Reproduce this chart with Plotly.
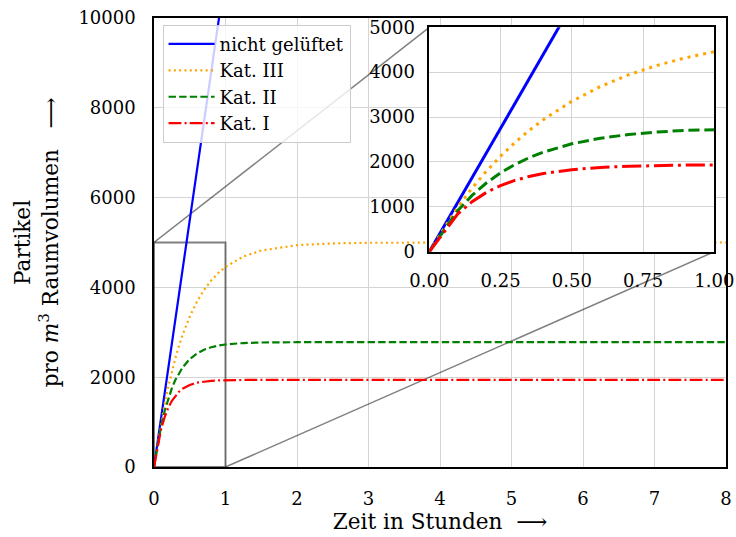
import plotly.graph_objects as go

# ---- data ----
t_hours = [0, 0.1, 0.15, 0.2, 0.25, 0.3, 0.35, 0.4, 0.5, 0.6, 0.7, 0.8, 0.9, 1.0,
           1.25, 1.5, 2, 2.5, 3, 4, 5, 6, 7, 8]
kat3 = [0, 996, 1416, 1792, 2129, 2431, 2700, 2942, 3352, 3680, 3943, 4153, 4322, 4457,
        4688, 4821, 4941, 4980, 4994, 5000, 5000, 5000, 5000, 5000]
kat2 = [0, 917, 1254, 1531, 1757, 1943, 2094, 2219, 2404, 2528, 2611, 2667, 2704, 2729,
        2761, 2773, 2779, 2780, 2780, 2780, 2780, 2780, 2780, 2780]
kat1 = [0, 843, 1115, 1320, 1473, 1589, 1676, 1742, 1828, 1877, 1904, 1920, 1929, 1934,
        1938, 1940, 1940, 1940, 1940, 1940, 1940, 1940, 1940, 1940]
blue_t = [0, 1]
blue_v = [0, 11000]

series_names = ["nicht gelüftet", "Kat. III", "Kat. II", "Kat. I"]
x_ticks_main = [0, 1, 2, 3, 4, 5, 6, 7, 8]
y_ticks_main = [0, 2000, 4000, 6000, 8000, 10000]
x_ticks_inset = [0, 0.25, 0.5, 0.75, 1.0]
y_ticks_inset = [0, 1000, 2000, 3000, 4000, 5000]
zoom_x = [0, 1]
zoom_y = [0, 5000]

FONT = "DejaVu Serif"
colors = ["#0000ff", "#ffa500", "#008000", "#ff0000"]

def dashes(lw):
    return [None,
            f"{1.0*lw}px,{1.65*lw}px",
            f"{3.7*lw}px,{1.6*lw}px",
            f"{6.4*lw}px,{1.6*lw}px,{1.0*lw}px,{1.6*lw}px"]

series = [(blue_t, blue_v), (t_hours, kat3), (t_hours, kat2), (t_hours, kat1)]

fig = go.Figure()
d_main = dashes(2)
for i, (xs, ys) in enumerate(series):
    line = dict(color=colors[i], width=2.2)
    if d_main[i]:
        line["dash"] = d_main[i]
    fig.add_trace(go.Scatter(x=xs, y=ys, mode="lines", name=series_names[i], line=line,
                             xaxis="x", yaxis="y", legendgroup=f"g{i}"))
d_in = dashes(3)
for i, (xs, ys) in enumerate(series):
    line = dict(color=colors[i], width=3)
    if d_in[i]:
        line["dash"] = d_in[i]
    fig.add_trace(go.Scatter(x=xs, y=ys, mode="lines", name=series_names[i], line=line,
                             xaxis="x2", yaxis="y2", showlegend=False))

inset_dx = [0.4813, 0.9796]
inset_dy = [0.4795, 0.9793]

grid = "#d4d4d4"
ax_common = dict(showgrid=True, gridcolor=grid, gridwidth=1, zeroline=False,
                 showline=True, linecolor="black", linewidth=1.5, mirror=True,
                 ticks="", ticklabeloverflow="allow", automargin=False,
                 tickfont=dict(family=FONT, size=18, color="black"))

NB = "\u00a0"
fig.update_layout(
    width=736, height=537, autosize=False,
    margin=dict(l=154, r=10, t=18, b=70, autoexpand=False),
    paper_bgcolor="white", plot_bgcolor="white",
    font=dict(family=FONT, size=18, color="black"),
    xaxis=dict(domain=[0, 1], range=[0, 8], tickvals=x_ticks_main,
               ticklabelstandoff=15,
               title=dict(text=f"Zeit in Stunden{NB}{NB}⟶", font=dict(family=FONT, size=21.6),
                          standoff=4),
               **ax_common),
    yaxis=dict(domain=[0, 1], range=[0, 10000], tickvals=y_ticks_main, tickformat="d",
               ticklabelstandoff=13,
               title=dict(text=f"Partikel<br>pro{NB}<i>m</i><sup>3</sup>{NB}Raumvolumen{NB}{NB}{NB}⟶",
                          font=dict(family=FONT, size=21.6), standoff=14),
               **ax_common),
    xaxis2=dict(domain=inset_dx, range=[0, 1], anchor="y2", tickvals=x_ticks_inset,
                tickformat=".2f", ticklabelstandoff=12, **ax_common),
    yaxis2=dict(domain=inset_dy, range=[0, 5000], anchor="x2", tickvals=y_ticks_inset,
                tickformat="d", ticklabelstandoff=9, **ax_common),
    legend=dict(x=0.015, y=0.985, xanchor="left", yanchor="top",
                bgcolor="rgba(255,255,255,0.8)", bordercolor="#cccccc", borderwidth=1,
                font=dict(family=FONT, size=18, color="black"),
                traceorder="grouped", tracegroupgap=0, itemwidth=46),
    showlegend=True,
)

# white background for the inset (drawn in the inset subplot, above the main traces)
fig.add_shape(type="rect", xref="x2", yref="y2", x0=0, x1=1, y0=0, y1=5000,
              fillcolor="white", line=dict(width=0), layer="below")

# zoom indicator rectangle and connectors
gray = "rgba(0,0,0,0.5)"
fig.add_shape(type="rect", xref="x", yref="y", x0=zoom_x[0], x1=zoom_x[1],
              y0=zoom_y[0], y1=zoom_y[1], line=dict(color=gray, width=2), layer="between")
fig.add_shape(type="line", xref="x", yref="y", x0=zoom_x[0], y0=zoom_y[1],
              x1=8 * inset_dx[0], y1=10000 * inset_dy[1], line=dict(color=gray, width=1.5),
              layer="between")
fig.add_shape(type="line", xref="x", yref="y", x0=zoom_x[1], y0=zoom_y[0],
              x1=8 * inset_dx[1], y1=10000 * inset_dy[0], line=dict(color=gray, width=1.5),
              layer="between")

fig.write_html("out.html", config={"displayModeBar": False},
               post_script="document.body.style.margin='0px';")
